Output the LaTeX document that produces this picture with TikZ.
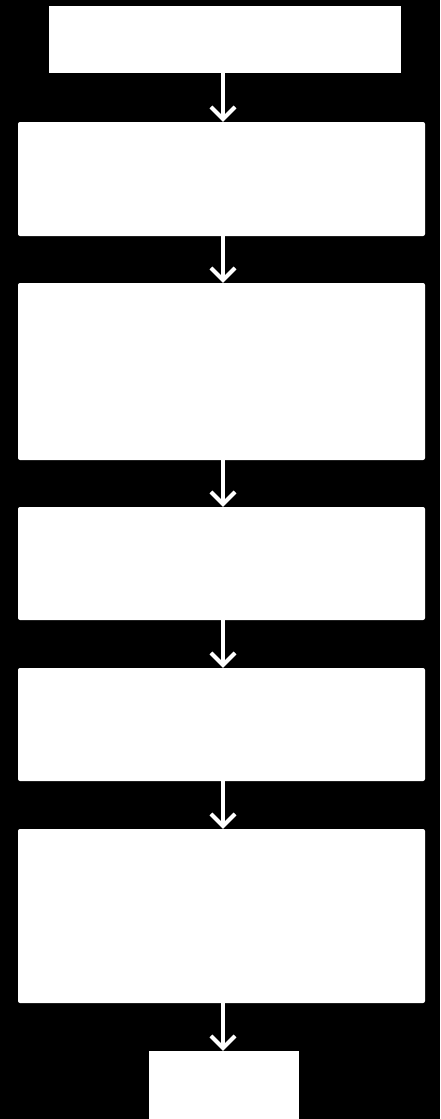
\documentclass[tikz,border=0pt]{standalone}
\usetikzlibrary{arrows.meta}
\begin{document}
\begin{tikzpicture}[x=1pt,y=-1pt,
  stepbox/.style={fill=white,draw=none,rounded corners=2pt,inner sep=0pt,minimum width=407pt},
  endbox/.style={fill=white,draw=none,inner sep=0pt},
  flow/.style={draw=white,line width=4pt,-{Straight Barb[length=12pt,width=24pt,line width=4pt]}}]
\fill[black] (0,0) rectangle (440,1119);
\useasboundingbox (0,0) rectangle (440,1119);
\node[endbox,minimum width=352pt,minimum height=67pt] (b1) at (225,39.5) {};
\node[stepbox,minimum height=114pt] (b2) at (221.5,179) {};
\node[stepbox,minimum height=177pt] (b3) at (221.5,371.5) {};
\node[stepbox,minimum height=113pt] (b4) at (221.5,563.5) {};
\node[stepbox,minimum height=113pt] (b5) at (221.5,724.5) {};
\node[stepbox,minimum height=174pt] (b6) at (221.5,916) {};
\node[endbox,minimum width=150pt,minimum height=68pt] (b7) at (224,1085) {};
\draw[flow] (b1.south -| 223,0) -- (b2.north -| 223,0);
\draw[flow] (b2.south -| 223,0) -- (b3.north -| 223,0);
\draw[flow] (b3.south -| 223,0) -- (b4.north -| 223,0);
\draw[flow] (b4.south -| 223,0) -- (b5.north -| 223,0);
\draw[flow] (b5.south -| 223,0) -- (b6.north -| 223,0);
\draw[flow] (b6.south -| 223,0) -- (b7.north -| 223,0);
\end{tikzpicture}
\end{document}
